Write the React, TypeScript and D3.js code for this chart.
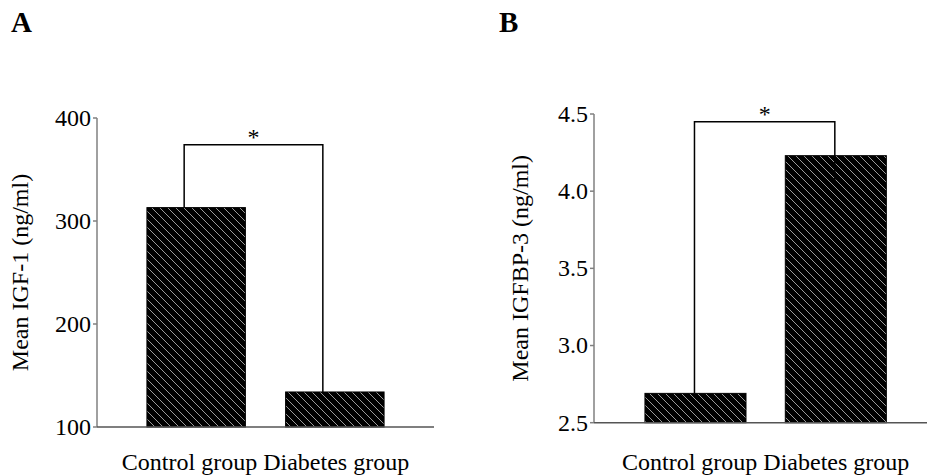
import React from "react";
import * as d3 from "d3";

const categories = ["Control group", "Diabetes group"];
const igf1Values = [313, 134];
const igfbp3Values = [2.69, 4.23];
const igf1Ticks = [100, 200, 300, 400];
const igfbp3Ticks = [2.5, 3.0, 3.5, 4.0, 4.5];
const igf1Bracket = { top: 374, left: 313, right: 134 };
const igfbp3Bracket = { top: 4.45, left: 2.69, right: 4.07 };

const W = 927;
const H = 475;
const FONT = "'Liberation Serif', 'Times New Roman', serif";
const FS = 24;

type PanelProps = {
  letter: string;
  letterX: number;
  values: number[];
  ticks: number[];
  domain: [number, number];
  yRange: [number, number];
  axisX: number;
  axisEnd: number;
  bandRange: [number, number];
  pad: [number, number];
  yLabel: string;
  yLabelX: number;
  tickFmt: (v: number) => string;
  bracket: { top: number; left: number; right: number };
  legOffset: number;
  patternId: string;
};

function Panel(p: PanelProps) {
  const y = d3.scaleLinear().domain(p.domain).range(p.yRange);
  const x = d3
    .scaleBand<string>()
    .domain(categories)
    .range(p.bandRange)
    .paddingInner(p.pad[0])
    .paddingOuter(p.pad[1]);
  const base = y(p.domain[0]);
  const c0 = x(categories[0])! + x.bandwidth() / 2 + p.legOffset;
  const c1 = x(categories[1])! + x.bandwidth() / 2 + p.legOffset;
  const bt = y(p.bracket.top);
  const midLabel = (x(categories[0])! + x(categories[1])! + x.bandwidth()) / 2;
  const yMid = (p.yRange[0] + p.yRange[1]) / 2;
  return (
    <g>
      <text x={p.letterX} y={32} fontFamily={FONT} fontWeight="bold" fontSize={29} fill="#000">
        {p.letter}
      </text>
      {categories.map((c, i) => (
        <rect
          key={c}
          x={x(c)}
          y={y(p.values[i])}
          width={x.bandwidth()}
          height={base - y(p.values[i])}
          fill={`url(#${p.patternId})`}
          stroke="#000"
          strokeWidth={1}
        />
      ))}
      <line x1={p.axisX} x2={p.axisX} y1={y(p.domain[1])} y2={base} stroke="#808080" strokeWidth={1.5} />
      {p.ticks.map((t) => (
        <g key={t}>
          <line x1={p.axisX - 4} x2={p.axisX} y1={y(t)} y2={y(t)} stroke="#808080" strokeWidth={1.5} />
          <text
            x={p.axisX - 6}
            y={y(t)}
            dy="0.33em"
            textAnchor="end"
            fontFamily={FONT}
            fontSize={FS}
            fill="#000"
          >
            {p.tickFmt(t)}
          </text>
        </g>
      ))}
      <line x1={p.axisX} x2={p.axisEnd} y1={base} y2={base} stroke="#555" strokeWidth={1.5} />
      <text x={midLabel} y={470} textAnchor="middle" fontFamily={FONT} fontSize={FS} fill="#000">
        {categories.join(" ")}
      </text>
      <text
        transform={`translate(${p.yLabelX},${yMid}) rotate(-90)`}
        textAnchor="middle"
        fontFamily={FONT}
        fontSize={FS}
        fill="#000"
      >
        {p.yLabel}
      </text>
      <path
        d={`M${c0},${y(p.bracket.left)}V${bt}H${c1}V${y(p.bracket.right)}`}
        fill="none"
        stroke="#000"
        strokeWidth={1.5}
      />
      <text x={(c0 + c1) / 2} y={bt} textAnchor="middle" fontFamily={FONT} fontSize={FS} fill="#000">
        *
      </text>
    </g>
  );
}

export default function App() {
  return (
    <svg
      width={W}
      height={H}
      style={{ position: "absolute", left: 0, top: 0, background: "#fff" }}
    >
      <defs>
        <pattern id="hatch" patternUnits="userSpaceOnUse" width={8} height={8}>
          <rect width={8} height={8} fill="#000" />
          <path d="M0,0L8,8M-2,6L2,10M6,-2L10,2" stroke="#9a9a9a" strokeWidth={1} />
        </pattern>
      </defs>
      <rect width={W} height={H} fill="#fff" />
      <Panel
        letter="A"
        letterX={11}
        values={igf1Values}
        ticks={igf1Ticks}
        domain={[100, 400]}
        yRange={[427, 118]}
        axisX={97}
        axisEnd={434}
        bandRange={[97, 434]}
        pad={[0.29, 0.36]}
        yLabel="Mean IGF-1 (ng/ml)"
        yLabelX={28}
        tickFmt={(v) => String(v)}
        bracket={igf1Bracket}
        legOffset={-12}
        patternId="hatch"
      />
      <Panel
        letter="B"
        letterX={499}
        values={igfbp3Values}
        ticks={igfbp3Ticks}
        domain={[2.5, 4.5]}
        yRange={[422.7, 114]}
        axisX={594}
        axisEnd={927}
        bandRange={[594, 937.3]}
        pad={[0.28, 0.363]}
        yLabel="Mean IGFBP-3 (ng/ml)"
        yLabelX={528}
        tickFmt={d3.format(".1f")}
        bracket={igfbp3Bracket}
        legOffset={-1}
        patternId="hatch"
      />
    </svg>
  );
}
